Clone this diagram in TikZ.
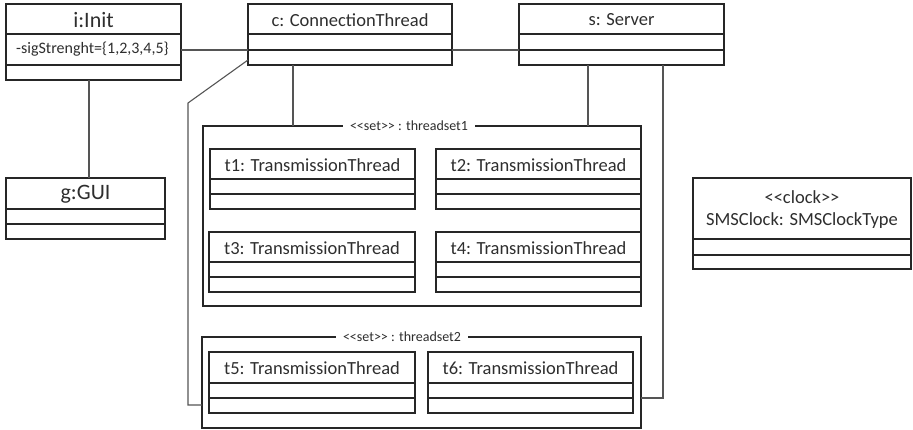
\documentclass[tikz,border=0pt]{standalone}
\usepackage{fontspec}
\setmainfont{Carlito}[Ligatures=TeXOff]
\usetikzlibrary{calc}

\definecolor{ink}{HTML}{262626}
\definecolor{wire}{HTML}{555555}
\definecolor{txt}{HTML}{2E2E2E}

\tikzset{
  objbox/.style={draw=ink, line width=1.3pt, fill=none, inner sep=0pt, outer sep=0pt},
  divider/.style={draw=ink, line width=1.2pt},
  setbox/.style={draw=ink, line width=1.3pt, inner sep=0pt, outer sep=0pt},
  setlabel/.style={fill=white, text=txt, inner xsep=7pt, inner ysep=1pt,
    font=\fontsize{14}{16}\selectfont},
  attr/.style={text=txt, anchor=west, inner sep=0pt, font=\fontsize{16}{18}\selectfont},
  wire/.style={draw=wire, line width=1.1pt},
}

% UML object box: name, left, top, right, title bottom, middle line, bottom, font size, title
\newcommand\umlobj[9]{%
  \node[objbox, anchor=north west,
        minimum width={(#4-#2)*1pt}, minimum height={(#7-#3)*1pt}] (#1) at (#2,#3) {};
  \coordinate (#1-d1) at (#2,#5);
  \coordinate (#1-d2) at (#2,#6);
  \draw[divider] (#1-d1) -- (#1-d1 -| #1.east);
  \draw[divider] (#1-d2) -- (#1-d2 -| #1.east);
  \node[text=txt, align=center, inner sep=0pt, font={\fontsize{#8}{22}\selectfont}]
    (#1-title) at ($(#1.north)!0.5!(#1-d1 -| #1.north)+(0,1)$) {#9};
}

\begin{document}
\begin{tikzpicture}[x=1pt, y=-1pt]
\useasboundingbox (0,0) rectangle (913,429);

% top row
\umlobj{i}{6}{4}{181}{34}{65}{80}{22}{i:Init}
\node[attr] (i-attr) at ($(i-d1)!0.5!(i-d2)+(10,0)$) {-sigStrenght=\{1,2,3,4,5\}};
\umlobj{c}{248}{4}{452}{34}{50}{65}{18.5}{c: ConnectionThread}
\umlobj{s}{519}{4}{724}{34}{50}{65}{18.5}{s: Server}

% left and right objects
\umlobj{g}{6}{178}{165}{209}{224}{239}{22}{g:GUI}
\umlobj{clk}{693}{178}{911}{239}{255}{269}{18.5}{<<clock>>\\SMSClock: SMSClockType}

% first thread set
\node[setbox, anchor=north west, minimum width=438pt, minimum height=180pt] (ts1) at (203,126) {};
\umlobj{t1}{210}{149}{415}{179}{194}{209}{18.5}{t1: TransmissionThread}
\umlobj{t2}{436}{149}{641}{179}{194}{209}{18.5}{t2: TransmissionThread}
\umlobj{t3}{209}{232}{415}{262}{277}{292}{18.5}{t3: TransmissionThread}
\umlobj{t4}{436}{232}{641}{262}{277}{292}{18.5}{t4: TransmissionThread}
\node[setlabel] (ts1-label) at (409,126) {<<set>> : threadset1};

% second thread set
\node[setbox, anchor=north west, minimum width=439pt, minimum height=91pt] (ts2) at (202,337) {};
\umlobj{t5}{209}{352}{415}{383}{398}{413}{18.5}{t5: TransmissionThread}
\umlobj{t6}{428}{352}{633}{383}{398}{413}{18.5}{t6: TransmissionThread}
\node[setlabel] (ts2-label) at (402,337) {<<set>> : threadset2};

% links
\draw[wire] (i.east |- c-d2) -- (c-d2);
\draw[wire] (c-d2 -| c.east) -- (s-d2);

\coordinate (i-port) at ([xshift=83pt]i.south west);
\draw[wire] (i-port) -- (i-port |- g.north);

\coordinate (c-port) at ([xshift=45pt]c.south west);
\draw[wire] (c-port) -- (c-port |- ts1.north);

\coordinate (s-port1) at ([xshift=69pt]s.south west);
\draw[wire] (s-port1) -- (s-port1 |- ts1.north);

\coordinate (s-port2) at ([xshift=144pt]s.south west);
\draw[wire] (s-port2) |- ([yshift=-15.5pt]ts2.east);

\draw[wire] ([yshift=5pt]c.south west) -- ++(-60,43) |- ([yshift=-22.5pt]ts2.west);
\end{tikzpicture}
\end{document}
